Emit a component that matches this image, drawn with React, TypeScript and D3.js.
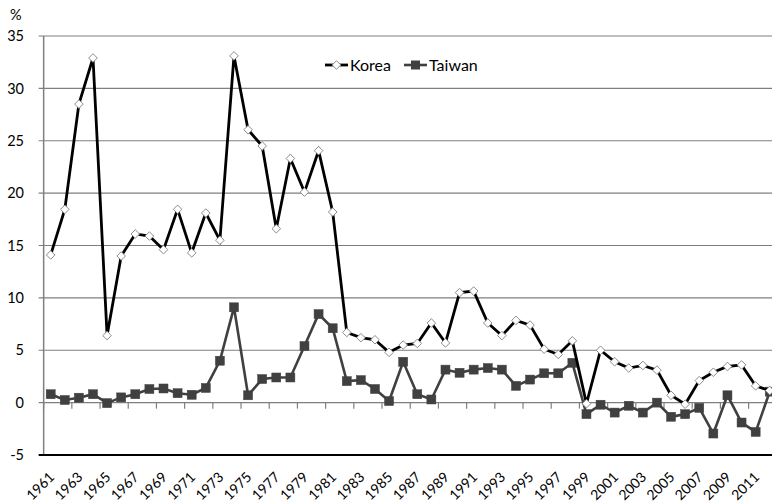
import React from "react";
import * as d3 from "d3";

const years: number[] = d3.range(1961, 2013);
const korea: number[] = [
  14.1, 18.45, 28.5, 32.9, 6.4, 14.0, 16.1, 15.9, 14.6, 18.45,
  14.3, 18.1, 15.5, 33.1, 26.05, 24.5, 16.6, 23.3, 20.1, 24.05,
  18.2, 6.7, 6.2, 6.0, 4.8, 5.5, 5.65, 7.6, 5.7, 10.5,
  10.65, 7.6, 6.4, 7.85, 7.4, 5.1, 4.6, 5.9, -0.1, 5.0,
  3.9, 3.3, 3.55, 3.1, 0.7, -0.15, 2.1, 2.9, 3.45, 3.6,
  1.6, 1.15,
];
const taiwan: number[] = [
  0.8, 0.25, 0.47, 0.8, -0.05, 0.5, 0.8, 1.3, 1.35, 0.9,
  0.75, 1.4, 4.0, 9.1, 0.7, 2.25, 2.4, 2.4, 5.4, 8.45,
  7.1, 2.05, 2.15, 1.3, 0.15, 3.9, 0.8, 0.3, 3.15, 2.85,
  3.15, 3.3, 3.15, 1.6, 2.2, 2.8, 2.8, 3.8, -1.1, -0.2,
  -0.95, -0.3, -0.95, 0.0, -1.35, -1.1, -0.5, -2.95, 0.7, -1.9,
  -2.8, 1.05,
];
const yTicks: number[] = [-5, 0, 5, 10, 15, 20, 25, 30, 35];
const seriesNames: string[] = ["Korea", "Taiwan"];

const W = 772;
const H = 503;
const FONT = "Lato, 'Open Sans', sans-serif";

export default function App() {
  const x = d3
    .scaleBand<number>()
    .domain(years)
    .range([43.65, 776.8])
    .padding(0);
  const bw = x.bandwidth();
  const cx = (yr: number) => (x(yr) as number) + bw / 2;
  const y = d3.scaleLinear().domain([-5, 35]).range([455, 36]);

  const line = d3
    .line<number>()
    .x((_, i) => cx(years[i]))
    .y((d) => y(d));

  const left = 43.65;
  const right = W;
  const boundaryTicks = years
    .map((yr, i) => ({ yr, i }))
    .filter((d) => d.i % 2 === 0)
    .map((d) => x(d.yr) as number);
  boundaryTicks.push(776.8);

  const labelYears = years.filter((_, i) => i % 2 === 0);

  const diamond = (px: number, py: number, r: number) =>
    `M${px},${py - r}L${px + r},${py}L${px},${py + r}L${px - r},${py}Z`;

  return (
    <svg
      width={W}
      height={H}
      style={{ position: "absolute", left: 0, top: 0, background: "#fff" }}
      fontFamily={FONT}
    >
      {/* gridlines */}
      {yTicks.map((t) => (
        <g key={t}>
          {t !== -5 && (
            <line
              x1={left - 5}
              x2={right}
              y1={y(t)}
              y2={y(t)}
              stroke="#7f7f7f"
              strokeWidth={1.2}
            />
          )}
          <text
            x={24}
            y={y(t)}
            dy="0.36em"
            textAnchor="end"
            fontSize={14.5}
            fill="#000"
          >
            {t}
          </text>
        </g>
      ))}
      {/* y axis */}
      <line x1={left} x2={left} y1={y(35)} y2={y(-5)} stroke="#7f7f7f" strokeWidth={1.5} />
      {/* x ticks on zero line */}
      {boundaryTicks.map((bx, i) => (
        <line key={i} x1={bx} x2={bx} y1={y(0)} y2={y(0) + 6} stroke="#7f7f7f" strokeWidth={1.2} />
      ))}
      {/* bottom border */}
      <line x1={left - 5} x2={right} y1={y(-5)} y2={y(-5)} stroke="#000" strokeWidth={2} />
      <text x={10} y={20} fontSize={14.5} fill="#000">%</text>

      {/* x labels */}
      {labelYears.map((yr) => (
        <text
          key={yr}
          transform={`translate(${cx(yr) + 4.5},${478}) rotate(-45)`}
          textAnchor="end"
          fontSize={14}
          fill="#000"
        >
          {yr}
        </text>
      ))}

      {/* Taiwan */}
      <path d={line(taiwan) || ""} fill="none" stroke="#404040" strokeWidth={2.6} />
      {taiwan.map((v, i) => (
        <rect
          key={i}
          x={cx(years[i]) - 4.5}
          y={y(v) - 4.5}
          width={9}
          height={9}
          fill="#404040"
          stroke="#404040"
          strokeWidth={0.5}
        />
      ))}
      {/* Korea */}
      <path d={line(korea) || ""} fill="none" stroke="#000" strokeWidth={2.8} />
      {korea.map((v, i) => (
        <path
          key={i}
          d={diamond(cx(years[i]), y(v), 4.3)}
          fill="#fff"
          stroke="#8c8c8c"
          strokeWidth={1}
        />
      ))}

      {/* legend */}
      <g>
        <line x1={325} x2={348} y1={65} y2={65} stroke="#000" strokeWidth={2.8} />
        <path d={diamond(336.5, 65, 4.3)} fill="#fff" stroke="#8c8c8c" strokeWidth={1} />
        <text x={350} y={65} dy="0.36em" fontSize={16} fill="#000">
          {seriesNames[0]}
        </text>
        <line x1={404} x2={427} y1={65} y2={65} stroke="#404040" strokeWidth={2.6} />
        <rect x={411} y={60.5} width={9} height={9} fill="#404040" />
        <text x={429} y={65} dy="0.36em" fontSize={16} fill="#000">
          {seriesNames[1]}
        </text>
      </g>
    </svg>
  );
}
